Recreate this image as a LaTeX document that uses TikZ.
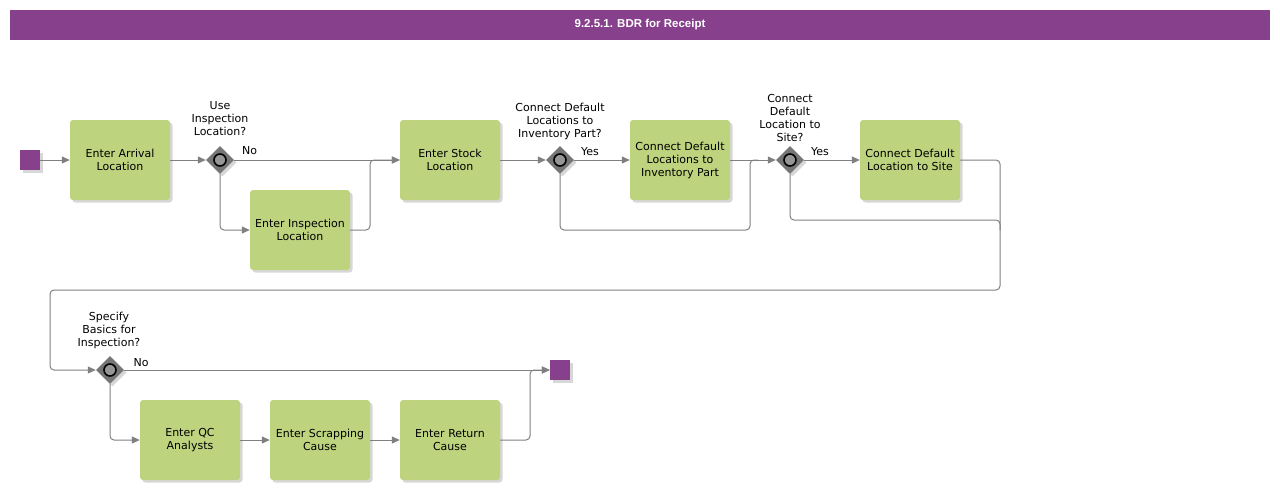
\documentclass[tikz,border=0pt]{standalone}
\usepackage{fontspec}
\setmainfont{DejaVu Sans}
\newfontfamily\titlefont{Liberation Sans}
\usetikzlibrary{shapes.geometric,arrows.meta,shadows}
\definecolor{bpurple}{RGB}{135,64,140}
\definecolor{bgreen}{RGB}{189,211,126}
\definecolor{lgray}{RGB}{128,128,128}
\definecolor{gwfill}{RGB}{118,118,118}
\definecolor{gwcirc}{RGB}{150,150,150}
\tikzset{
  sh/.style={drop shadow={shadow xshift=2.5pt,shadow yshift=-2.5pt,fill=black!35,opacity=0.45}},
  task/.style={rectangle,rounded corners=3pt,fill=bgreen,minimum width=100pt,minimum height=80pt,inner sep=2pt,align=center,font=\fontsize{11}{13}\selectfont,sh},
  evt/.style={rectangle,fill=bpurple,minimum size=20pt,inner sep=0pt,sh},
  gw/.style={diamond,fill=gwfill,minimum width=28pt,minimum height=28pt,inner sep=0pt,sh},
  gwlab/.style={align=center,font=\fontsize{11}{13}\selectfont,inner sep=0pt},
  flab/.style={font=\fontsize{11}{13}\selectfont,inner sep=0pt},
  flow/.style={draw=lgray,line width=1pt,rounded corners=4pt,-{Triangle[length=8pt,width=7pt]}},
  line/.style={draw=lgray,line width=1pt,rounded corners=4pt},
}
\newcommand{\gwcircle}[1]{\draw[black,line width=1.6pt,fill=gwcirc] (#1.center) circle (6pt);}
\begin{document}
\begin{tikzpicture}[x=1pt,y=-1pt]
\useasboundingbox (0,0) rectangle (1280,490);
% title
\node[rectangle,fill=bpurple,minimum width=1260pt,minimum height=30pt,inner sep=0pt,text=white,font=\titlefont\bfseries\fontsize{11.5}{13}\selectfont] (title) at (640,25) {9.2.5.1. BDR for Receipt};
% nodes
\node[evt] (start) at (30,160) {};
\node[task] (arrival) at (120,160) {Enter Arrival\\Location};
\node[gw] (g1) at (220,160) {};
\gwcircle{g1}
\node[gwlab] (g1l) at (220,119) {Use\\Inspection\\Location?};
\node[task] (insp) at (300,230) {Enter Inspection\\Location};
\node[task] (stock) at (450,160) {Enter Stock\\Location};
\node[gw] (g2) at (560,160) {};
\gwcircle{g2}
\node[gwlab] (g2l) at (560,121) {Connect Default\\Locations to\\Inventory Part?};
\node[task] (invpart) at (680,160) {Connect Default\\Locations to\\Inventory Part};
\node[gw] (g3) at (790,160) {};
\gwcircle{g3}
\node[gwlab] (g3l) at (790,117.5) {Connect\\Default\\Location to\\Site?};
\node[task] (site) at (910,160) {Connect Default\\Location to Site};
\node[gw] (g4) at (110,370) {};
\gwcircle{g4}
\node[gwlab] (g4l) at (109,330) {Specify\\Basics for\\Inspection?};
\node[evt] (end) at (560,370) {};
\node[task] (qc) at (190,440) {Enter QC\\Analysts};
\node[task] (scrap) at (320,440) {Enter Scrapping\\Cause};
\node[task] (ret) at (450,440) {Enter Return\\Cause};
% helper coordinates
\coordinate (c1) at (370,160);
\coordinate (c2) at (750,160);
\coordinate (c3) at (1000,160);
\coordinate (c4) at (1000,290);
\coordinate (c5) at (50,290);
\coordinate (c6) at (530,370);
% connectors
\draw[flow] (start) -- (arrival);
\draw[flow] (arrival) -- (g1);
\draw[flow] (g1) -- (stock);
\node[flab,anchor=west] (no1) at (242,151) {No};
\draw[flow] (g1.south) |- (insp.west);
\draw[flow] (insp.east) -| (c1) -- (stock.west);
\draw[flow] (stock) -- (g2);
\draw[flow] (g2) -- (invpart);
\node[flab] (yes2) at (590,152) {Yes};
\draw[flow] (invpart) -- (g3);
\draw[line] (g2.south) |- (c2 |- insp.west) -- (c2) -- ++(8,0);
\draw[flow] (g3) -- (site);
\node[flab] (yes3) at (820,152) {Yes};
\draw[flow] (site.east) -- (c3) -- (c4) -- (c5) |- (g4.west);
\draw[line] (g3.south) |- (1000,220) -- (1000,230);
\draw[flow] (g4) -- (end);
\node[flab] (no4) at (141,363) {No};
\draw[flow] (g4.south) |- (qc.west);
\draw[flow] (qc) -- (scrap);
\draw[flow] (scrap) -- (ret);
\draw[flow] (ret.east) -| (c6) -- (end.west);
\end{tikzpicture}
\end{document}
